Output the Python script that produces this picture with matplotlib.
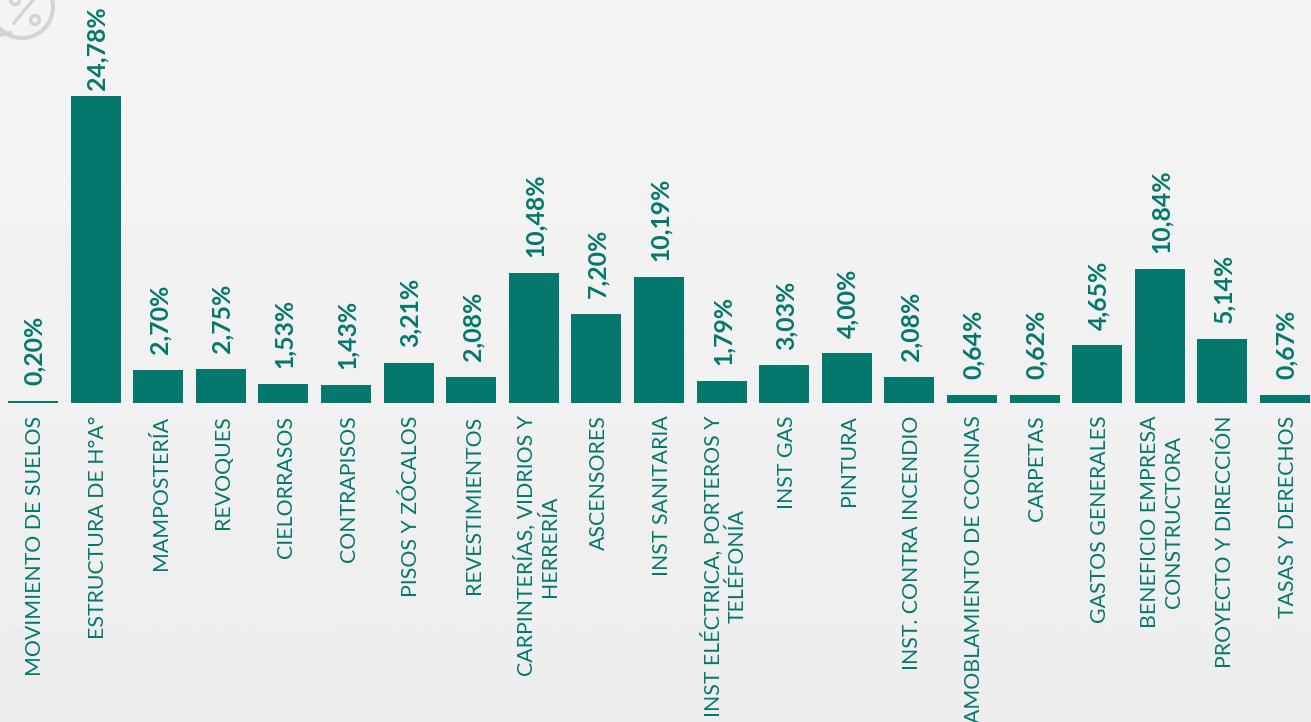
import numpy as np
import matplotlib
matplotlib.use("Agg")
import matplotlib.pyplot as plt
from matplotlib.patches import Circle
from matplotlib.transforms import ScaledTranslation

categories = [
    "MOVIMIENTO DE SUELOS", "ESTRUCTURA DE H°A°", "MAMPOSTERÍA", "REVOQUES",
    "CIELORRASOS", "CONTRAPISOS", "PISOS Y ZÓCALOS", "REVESTIMIENTOS",
    "CARPINTERÍAS, VIDRIOS Y\nHERRERÍA", "ASCENSORES", "INST SANITARIA",
    "INST ELÉCTRICA, PORTEROS Y\nTELÉFONÍA", "INST GAS", "PINTURA",
    "INST. CONTRA INCENDIO", "AMOBLAMIENTO DE COCINAS", "CARPETAS",
    "GASTOS GENERALES", "BENEFICIO EMPRESA\nCONSTRUCTORA",
    "PROYECTO Y DIRECCIÓN", "TASAS Y DERECHOS",
]
values = [0.20, 24.78, 2.70, 2.75, 1.53, 1.43, 3.21, 2.08, 10.48, 7.20, 10.19,
          1.79, 3.03, 4.00, 2.08, 0.64, 0.62, 4.65, 10.84, 5.14, 0.67]

green = "#04786c"
W, H = 1311, 722
plt.rcParams["font.family"] = ["Lato", "DejaVu Sans"]

fig = plt.figure(figsize=(W / 100, H / 100), dpi=100)

# background gradient and the cropped percent icon, in pixel coordinates
bg = fig.add_axes([0, 0, 1, 1], zorder=0)
bg.set_xlim(0, W)
bg.set_ylim(H, 0)
bg.axis("off")
grad = np.linspace(0.958, 0.93, 256).reshape(-1, 1)
bg.imshow(grad, cmap="gray", vmin=0, vmax=1, extent=[0, W, H, 0], aspect="auto")
icon = "#d3d5d5"
bg.add_patch(Circle((22, 7), 31, fill=False, ec=icon, lw=2.9))
bg.add_patch(Circle((35, 20), 4.5, fill=False, ec=icon, lw=2.4))
bg.add_patch(Circle((15, 0), 4.5, fill=False, ec=icon, lw=2.4))
bg.plot([14, 33], [23, 0], color=icon, lw=2.4)
bg.plot([0, 10], [35, 33], color=icon, lw=2.9)

base_px = 403
ax = fig.add_axes([0, (H - base_px) / H, 1, base_px / H], zorder=1)
ax.patch.set_alpha(0)
step = 62.6
ax.set_xlim(-33 / step, (W - 33) / step)
ax.set_ylim(0, base_px / 12.39)

x = np.arange(len(values))
ax.bar(x, values, width=50 / step, color=green)

for i, v in zip(x, values):
    # the tallest label sits closer to its bar so it stays inside the picture
    gap = 4.0 if v > 20 else 11.4
    ax.annotate(f"{v:.2f}%".replace(".", ","), (i, v), xytext=(1, gap),
                textcoords="offset points", rotation=90, ha="center", va="bottom",
                fontsize=17.8, fontweight="bold", color=green, annotation_clip=False)

ax.set_xticks(x)
ax.set_xticklabels(categories, rotation=90, ha="center", va="top",
                   fontsize=15.3, color=green, linespacing=1.25)
ax.tick_params(axis="x", length=0, pad=9)
shift = ScaledTranslation(2.5 / 100, 0, fig.dpi_scale_trans)
for label in ax.get_xticklabels():
    label.set_transform(label.get_transform() + shift)
ax.set_yticks([])
for s in ax.spines.values():
    s.set_visible(False)

fig.savefig("out.png", dpi=100)
